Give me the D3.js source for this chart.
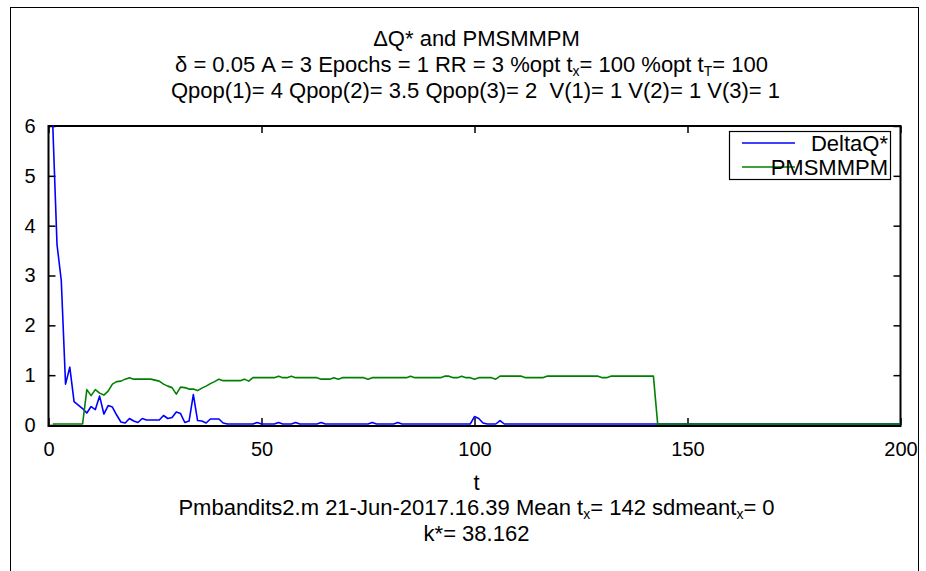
<!DOCTYPE html>
<html>
<head>
<meta charset="utf-8">
<script src="https://cdn.jsdelivr.net/npm/d3@7"></script>
<style>
  body { margin: 0; background: #fff; }
  svg { display: block; }
  text { font-family: "Liberation Sans", Arial, Helvetica, sans-serif; fill: #000; white-space: pre; }
</style>
</head>
<body>
<svg id="chart" width="926" height="571"></svg>
<script>
// Time steps t = 1..200
const timeSteps = d3.range(1, 201);

// DeltaQ* per time step
const deltaQ = [
  6.0, 3.6, 2.88, 0.80, 1.14, 0.45, 0.38, 0.31, 0.22, 0.35,
  0.29, 0.56, 0.20, 0.37, 0.34, 0.18, 0.04, 0.02, 0.11, 0.06,
  0.03, 0.11, 0.08, 0.08, 0.08, 0.08, 0.17, 0.11, 0.13, 0.24,
  0.21, 0.03, 0.06, 0.59, 0.07, 0.06, 0.02, 0.10, 0.10, 0.10,
  0.02, 0, 0, 0, 0, 0, 0, 0, 0.03, 0,
  0, 0, 0, 0.03, 0, 0, 0, 0.03, 0, 0,
  0, 0, 0, 0.03, 0, 0, 0, 0, 0, 0,
  0, 0, 0, 0, 0, 0.03, 0, 0, 0, 0,
  0, 0.03, 0, 0, 0, 0, 0, 0, 0, 0,
  0, 0, 0, 0, 0, 0, 0, 0, 0, 0.15,
  0.11, 0.02, 0, 0, 0, 0.07, 0, 0, 0, 0,
  0, 0, 0, 0, 0, 0, 0, 0, 0, 0,
  0, 0, 0, 0, 0, 0, 0, 0, 0, 0,
  0, 0, 0, 0, 0, 0, 0, 0, 0, 0,
  0, 0, 0, 0, 0, 0, 0, 0, 0, 0,
  0, 0, 0, 0, 0, 0, 0, 0, 0, 0,
  0, 0, 0, 0, 0, 0, 0, 0, 0, 0,
  0, 0, 0, 0, 0, 0, 0, 0, 0, 0,
  0, 0, 0, 0, 0, 0, 0, 0, 0, 0,
  0, 0, 0, 0, 0, 0, 0, 0, 0, 0
];

// PMSMMPM per time step
const pmsmmpm = [
  0, 0, 0, 0, 0, 0, 0, 0, 0.69, 0.57,
  0.69, 0.62, 0.58, 0.66, 0.80, 0.85, 0.86, 0.90, 0.93, 0.90,
  0.90, 0.90, 0.90, 0.90, 0.88, 0.86, 0.80, 0.76, 0.73, 0.60,
  0.74, 0.73, 0.70, 0.70, 0.67, 0.72, 0.76, 0.81, 0.85, 0.90,
  0.87, 0.87, 0.87, 0.87, 0.87, 0.90, 0.86, 0.93, 0.93, 0.93,
  0.93, 0.93, 0.93, 0.96, 0.93, 0.93, 0.96, 0.93, 0.93, 0.93,
  0.93, 0.93, 0.93, 0.90, 0.90, 0.90, 0.93, 0.90, 0.93, 0.93,
  0.93, 0.93, 0.93, 0.93, 0.90, 0.93, 0.93, 0.93, 0.93, 0.93,
  0.93, 0.93, 0.93, 0.93, 0.96, 0.93, 0.93, 0.93, 0.93, 0.93,
  0.93, 0.93, 0.96, 0.96, 0.93, 0.93, 0.96, 0.93, 0.93, 0.90,
  0.93, 0.93, 0.93, 0.93, 0.90, 0.96, 0.96, 0.96, 0.96, 0.96,
  0.96, 0.93, 0.93, 0.93, 0.93, 0.93, 0.96, 0.96, 0.96, 0.96,
  0.96, 0.96, 0.96, 0.96, 0.96, 0.96, 0.96, 0.96, 0.96, 0.93,
  0.93, 0.96, 0.96, 0.96, 0.96, 0.96, 0.96, 0.96, 0.96, 0.96,
  0.96, 0.96, 0, 0, 0, 0, 0, 0, 0, 0,
  0, 0, 0, 0, 0, 0, 0, 0, 0, 0,
  0, 0, 0, 0, 0, 0, 0, 0, 0, 0,
  0, 0, 0, 0, 0, 0, 0, 0, 0, 0,
  0, 0, 0, 0, 0, 0, 0, 0, 0, 0,
  0, 0, 0, 0, 0, 0, 0, 0, 0, 0
];

const xTicks = [0, 50, 100, 150, 200];
const yTicks = [0, 1, 2, 3, 4, 5, 6];
const seriesNames = ["DeltaQ*", "PMSMMPM"];
const seriesColors = ["#0000ff", "#008000"];

const svg = d3.select("#chart");
const plot = { left: 48.5, right: 900.5, top: 126, bottom: 425 };
const FS = 22;      // titles, legend, footnotes
const TICK_FS = 20; // tick labels
const SUB_FS = 14;  // subscripts
const SUB_DY = 4;

// Figure frame
svg.append("rect")
  .attr("x", 10.5).attr("y", 7.5)
  .attr("width", 908).attr("height", 600)
  .attr("fill", "none").attr("stroke", "#000").attr("stroke-width", 1);

const x = d3.scaleLinear().domain([0, 200]).range([plot.left, plot.right]);
const y = d3.scaleLinear().domain([0, 6]).range([plot.bottom, plot.top]);

svg.append("defs").append("clipPath").attr("id", "plotClip")
  .append("rect")
  .attr("x", plot.left).attr("y", plot.top - 1)
  .attr("width", plot.right - plot.left).attr("height", plot.bottom - plot.top + 2);

// Axes with inward ticks on all four sides
function styleAxis(g) {
  g.select(".domain").remove();
  g.selectAll(".tick line").attr("stroke", "#000").attr("stroke-width", 1.5);
  g.selectAll(".tick text").attr("font-size", TICK_FS).attr("font-family", null);
}

svg.append("g")
  .attr("transform", `translate(0,${plot.bottom})`)
  .call(d3.axisBottom(x).tickValues(xTicks).tickSize(-7).tickPadding(17).tickFormat(d3.format("d")))
  .call(styleAxis);

svg.append("g")
  .attr("transform", `translate(0,${plot.top})`)
  .call(d3.axisTop(x).tickValues(xTicks).tickSize(-7).tickFormat(""))
  .call(styleAxis);

svg.append("g")
  .attr("transform", `translate(${plot.left},0)`)
  .call(d3.axisLeft(y).tickValues(yTicks).tickSize(-7).tickPadding(13).tickFormat(d3.format("d")))
  .call(styleAxis);

svg.append("g")
  .attr("transform", `translate(${plot.right},0)`)
  .call(d3.axisRight(y).tickValues(yTicks).tickSize(-7).tickFormat(""))
  .call(styleAxis);

// Plot box (under the data lines)
svg.append("rect")
  .attr("x", plot.left).attr("y", plot.top)
  .attr("width", plot.right - plot.left).attr("height", plot.bottom - plot.top + 1)
  .attr("fill", "none").attr("stroke", "#000").attr("stroke-width", 2);

// Data lines
const line = d3.line().x((d, i) => x(timeSteps[i])).y(d => y(d) - 1);
const lines = svg.append("g").attr("clip-path", "url(#plotClip)");
[deltaQ, pmsmmpm].forEach((s, k) => {
  lines.append("path")
    .datum(s)
    .attr("d", line)
    .attr("fill", "none")
    .attr("stroke", seriesColors[k])
    .attr("stroke-width", 1.6)
    .attr("stroke-linejoin", "round");
});

// Text built from [string, isSubscript] parts
function richText(cx, baseline, parts) {
  const t = svg.append("text")
    .attr("x", cx).attr("y", baseline)
    .attr("text-anchor", "middle")
    .attr("font-size", FS);
  let shifted = false;
  parts.forEach(([s, sub]) => {
    const sp = t.append("tspan").text(s);
    if (sub && !shifted) { sp.attr("dy", SUB_DY).attr("font-size", SUB_FS); shifted = true; }
    else if (sub) { sp.attr("font-size", SUB_FS); }
    else if (shifted) { sp.attr("dy", -SUB_DY); shifted = false; }
  });
  return t;
}

const cx = (plot.left + plot.right) / 2;

// Title
richText(cx + 2, 46, [["\u0394Q* and PMSMMPM", false]]);
richText(cx - 3, 72, [
  ["\u03B4 = 0.05 A = 3 Epochs = 1 RR = 3 %opt t", false], ["x", true],
  ["= 100 %opt t", false], ["T", true], ["= 100", false]
]);
richText(cx + 1, 98, [["Qpop(1)= 4 Qpop(2)= 3.5 Qpop(3)= 2  V(1)= 1 V(2)= 1 V(3)= 1", false]]);

// X label and footnotes
richText(cx + 2, 490, [["t", false]]);
richText(cx + 2, 515, [
  ["Pmbandits2.m 21-Jun-2017.16.39 Mean t", false], ["x", true],
  ["= 142 sdmeant", false], ["x", true], ["= 0", false]
]);
richText(cx + 2, 541, [["k*= 38.162", false]]);

// Legend
const legend = svg.append("g");
legend.append("rect")
  .attr("x", 729.5).attr("y", 131.5).attr("width", 161).attr("height", 48)
  .attr("fill", "#fff").attr("stroke", "#000").attr("stroke-width", 1.2);
seriesNames.forEach((name, k) => {
  const ly = 143 + k * 24;
  legend.append("line")
    .attr("x1", 742).attr("x2", 795).attr("y1", ly).attr("y2", ly)
    .attr("stroke", seriesColors[k]).attr("stroke-width", 1.6);
  legend.append("text")
    .attr("x", 888).attr("y", ly + 8)
    .attr("text-anchor", "end").attr("font-size", FS)
    .text(name);
});
</script>
</body>
</html>
